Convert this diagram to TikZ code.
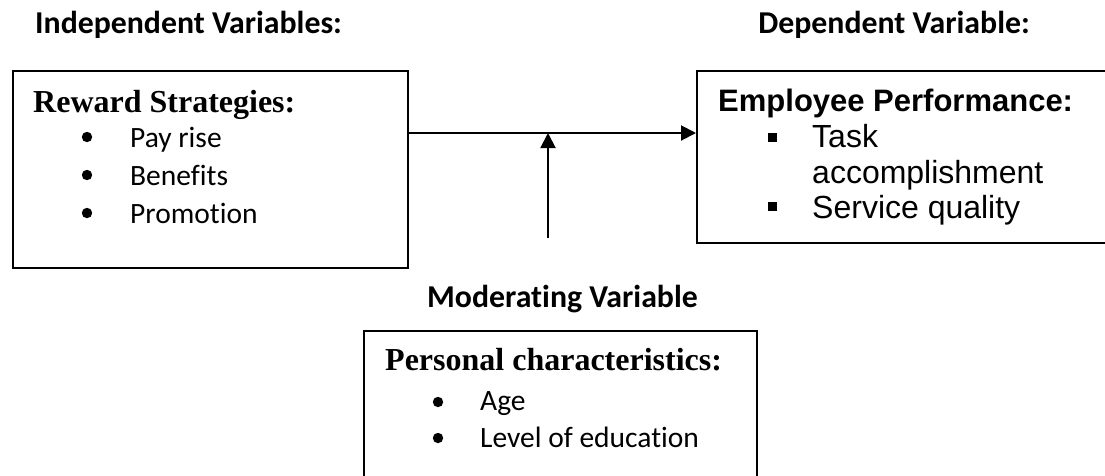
\documentclass[tikz,border=0pt]{standalone}
\usepackage{fontspec}
\setmainfont{Carlito}[Ligatures=NoCommon]
\newfontfamily\fTNR{Liberation Serif}
\newfontfamily\fCAL{Carlito}[Ligatures=NoCommon]
\newfontfamily\fARI{Liberation Sans}
\usetikzlibrary{arrows.meta}
\tikzset{
  boxframe/.style={draw=black, line width=2pt, rectangle, inner sep=0pt, anchor=north west},
  hdr/.style={anchor=base west, inner sep=0pt, font=\fCAL\bfseries\fontsize{31.8}{36}\selectfont},
  ttl/.style={anchor=base west, inner sep=0pt, font=\fTNR\bfseries\fontsize{32}{36}\selectfont},
  itm/.style={anchor=base west, inner sep=0pt, font=\fCAL\fontsize{29.5}{34}\selectfont},
  aitm/.style={anchor=base west, inner sep=0pt, font=\fARI\fontsize{32}{36}\selectfont},
  attl/.style={anchor=base west, inner sep=0pt, font=\fARI\bfseries\fontsize{31}{36}\selectfont},
  arr/.style={line width=2pt, -{Triangle[length=15pt,width=15pt]}},
  dot/.style={fill=black, draw=none},
}
\begin{document}
\begin{tikzpicture}[x=1pt,y=-1pt]
\clip (0,0) rectangle (1105,475);
\fill[white] (0,0) rectangle (1105,475);

% headers
\node[hdr] (hind) at (35,33) {Independent Variables:};
\node[hdr, anchor=base east] (hdep) at (1030,33) {Dependent Variable:};
\node[hdr] (hmod) at (427,307) {Moderating Variable};

% boxes
\node[boxframe, minimum width=395pt, minimum height=197pt] (box1) at (12,70) {};
\node[boxframe, minimum width=430pt, minimum height=172pt] (box2) at (696,70) {};
\node[boxframe, minimum width=393pt, minimum height=220pt] (box3) at (363,330) {};

% box 1 content
\node[ttl] (t1) at (33,112) {Reward Strategies:};
\fill[dot] (87,137) circle (5.2);
\fill[dot] (87,175) circle (5.2);
\fill[dot] (87,213) circle (5.2);
\node[itm] (i11) at (130,147) {Pay rise};
\node[itm] (i12) at (130,185) {Benefits};
\node[itm] (i13) at (130,223) {Promotion};

% box 2 content
\node[attl] (t2) at (718,111) {Employee Performance:};
\fill[dot] (767.5,133) rectangle (776.5,142);
\fill[dot] (767.5,202) rectangle (776.5,211);
\node[aitm] (i21) at (812,147) {Task};
\node[aitm] (i22) at (812,183) {accomplishment};
\node[aitm] (i23) at (812,218) {Service quality};

% box 3 content
\node[ttl] (t3) at (385,370) {Personal characteristics:};
\fill[dot] (438,402) circle (5.2);
\fill[dot] (438,438) circle (5.2);
\node[itm] (i31) at (480,410) {Age};
\node[itm] (i32) at (480,447) {Level of education};

% connectors
\path (box1.north east) ++(0,63) coordinate (hs);
\coordinate (vs) at (548,238);
\draw[arr] (hs) -- (hs -| box2.west);
\draw[arr] (vs) -- (vs |- hs);
\end{tikzpicture}
\end{document}
